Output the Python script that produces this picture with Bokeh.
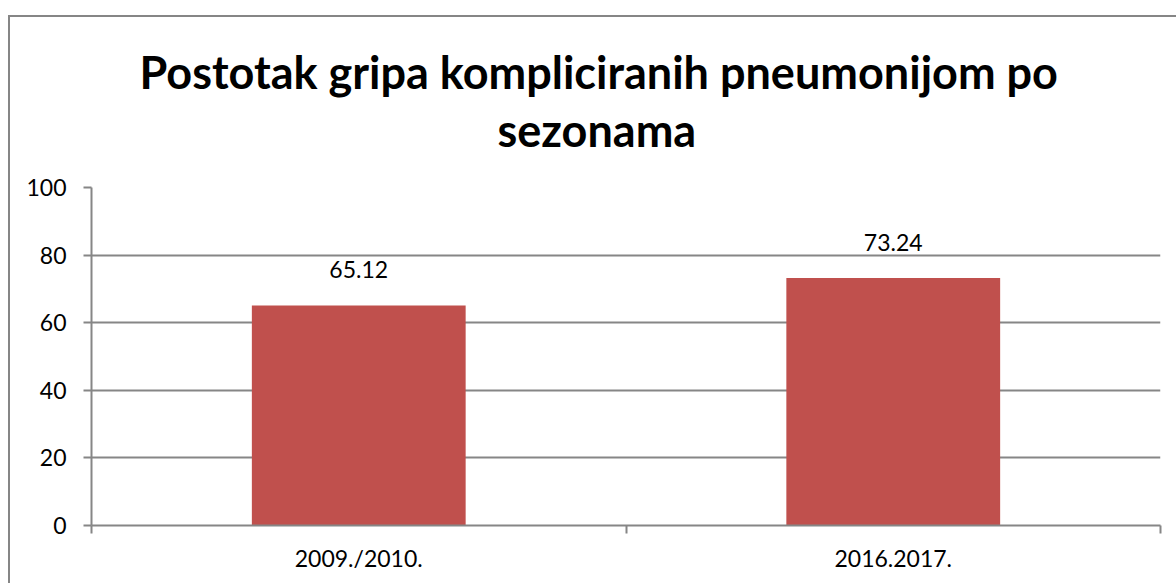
from bokeh.plotting import figure
from bokeh.models import ColumnDataSource, FixedTicker, LabelSet, Range1d, Title
from bokeh.core.properties import value
from bokeh.embed import file_html
from bokeh.resources import INLINE

title_lines = ["Postotak gripa kompliciranih pneumonijom po", "sezonama"]
categories = ["2009./2010.", "2016.2017."]
values = [65.12, 73.24]
labels = ["65.12", "73.24"]
y_ticks = [0, 20, 40, 60, 80, 100]

xs = [i + 0.5 for i in range(len(categories))]
src = ColumnDataSource(dict(x=xs, top=values, label=labels))

FONT = "Lato"
GREY = "#868686"

p = figure(width=1176, height=583, output_backend="svg", toolbar_location=None,
           x_range=Range1d(0, len(categories)), y_range=Range1d(0, 100),
           min_border_left=91, min_border_right=16, min_border_bottom=58, min_border_top=187)
p.outline_line_color = None
p.background_fill_color = "white"
p.border_fill_color = None
# chart-area border drawn as CSS background behind the transparent canvas border
p.styles = {
    "background": ("linear-gradient(#868686,#868686) 8px 15px / 2px 100% no-repeat, "
                   "linear-gradient(#868686,#868686) 8px 15px / 100% 2px no-repeat, white"),
}

# spacer between the plot frame and the two title lines
spacer = Title(text=" ", text_font=FONT, text_font_size="10px", standoff=15)
t2 = Title(text=title_lines[1], align="left", offset=406, text_font=FONT, text_font_size="45px",
           text_font_style="bold", text_color="black", standoff=4)
t1 = Title(text=title_lines[0], align="left", offset=48, text_font=FONT, text_font_size="45px",
           text_font_style="bold", text_color="black", standoff=0)
p.add_layout(spacer, "above")
p.add_layout(t2, "above")
p.add_layout(t1, "above")

p.vbar(x="x", top="top", width=0.4, bottom=0, source=src, fill_color="#C0504D", line_color=None)
p.add_layout(LabelSet(x="x", y="top", text="label", source=src, text_align="center",
                      text_baseline="alphabetic", y_offset=27, text_font=value(FONT),
                      text_font_size=value("23px"), text_color="black"))

p.xaxis.ticker = FixedTicker(ticks=xs, minor_ticks=list(range(len(categories) + 1)))
p.xaxis.major_label_overrides = {x: c for x, c in zip(xs, categories)}
p.xaxis.major_tick_line_color = None
p.xaxis.minor_tick_line_color = GREY
p.xaxis.minor_tick_out = 8
p.xaxis.minor_tick_in = 0
p.xaxis.minor_tick_line_width = 2
p.xaxis.axis_line_color = GREY
p.xaxis.axis_line_width = 2
p.xaxis.major_label_text_font = FONT
p.xaxis.major_label_text_font_size = "23px"
p.xaxis.major_label_text_color = "black"
p.xaxis.major_label_standoff = 10

p.yaxis.ticker = FixedTicker(ticks=y_ticks)
p.yaxis.major_tick_line_color = GREY
p.yaxis.major_tick_out = 8
p.yaxis.major_tick_in = 0
p.yaxis.major_tick_line_width = 2
p.yaxis.minor_tick_line_color = None
p.yaxis.axis_line_color = GREY
p.yaxis.axis_line_width = 2
p.yaxis.major_label_text_font = FONT
p.yaxis.major_label_text_font_size = "23px"
p.yaxis.major_label_text_color = "black"
p.yaxis.major_label_standoff = 17

p.xgrid.grid_line_color = None
p.ygrid.ticker = FixedTicker(ticks=y_ticks)
p.ygrid.grid_line_color = GREY
p.ygrid.grid_line_width = 2

open("out.html", "w").write(file_html(p, INLINE))
